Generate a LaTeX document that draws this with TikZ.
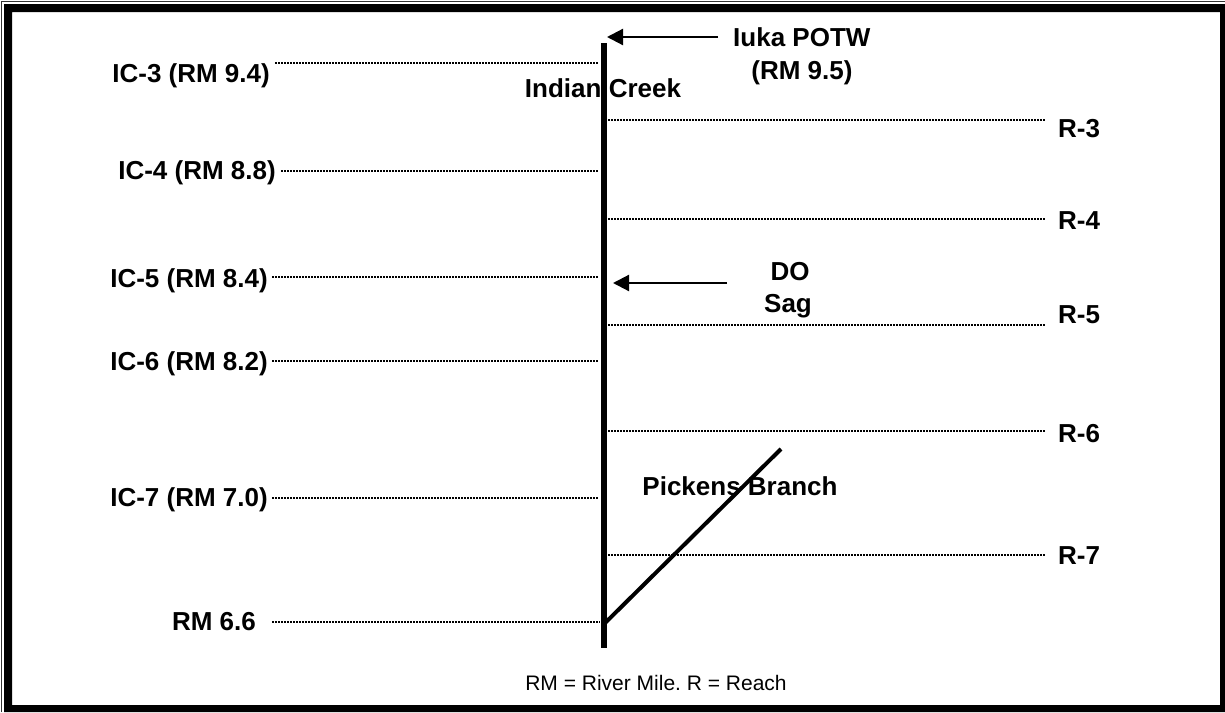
\documentclass[tikz,border=0pt]{standalone}
\usepackage{fontspec}
\setmainfont{Liberation Sans}
\usetikzlibrary{arrows.meta}
\begin{document}
\begin{tikzpicture}[x=1pt,y=-1pt,
 lbl/.style={font=\fontsize{26}{30}\selectfont\bfseries, inner sep=0pt, text height=18.7pt, text depth=0pt},
 note/.style={font=\fontsize{21}{24}\selectfont, inner sep=0pt, text height=15pt, text depth=0pt},
 dots/.style={line width=1.4pt, dash pattern=on 1.5pt off 1.5pt},
 river/.style={line width=5.5pt},
 branch/.style={line width=4pt},
 arr/.style={line width=2.2pt, -{Triangle[length=16pt,width=16pt]}}]
\useasboundingbox (0,0) rectangle (1225,712);
\fill[white] (0,0) rectangle (1225,712);
% frame
\draw[line width=1.2pt, black!80] (1.5,712) -- (1.5,1.5) -- (1225,1.5);
\fill[black, even odd rule] (4,4) rectangle (1225,712) (12,12) rectangle (1220,705);
% river
\coordinate (top) at (604,43);
\coordinate (bot) at (604,648);
\draw[river] (top) -- (bot);
\node[lbl] (ic) at (603,88) {Indian Creek};
% left labels
\node[lbl, anchor=east] (ic3) at (270,73) {IC-3 (RM 9.4)};
\node[lbl, anchor=east] (ic4) at (276,170) {IC-4 (RM 8.8)};
\node[lbl, anchor=east] (ic5) at (268,278) {IC-5 (RM 8.4)};
\node[lbl, anchor=east] (ic6) at (268,361) {IC-6 (RM 8.2)};
\node[lbl, anchor=east] (ic7) at (268,497) {IC-7 (RM 7.0)};
\node[lbl, anchor=east] (rm66) at (256,621) {RM 6.6};
\coordinate (l3a) at (275,63);  \coordinate (l3b) at (598,63);
\coordinate (l4a) at (281,171); \coordinate (l4b) at (598,171);
\coordinate (l5a) at (272,277); \coordinate (l5b) at (598,277);
\coordinate (l6a) at (272,361); \coordinate (l6b) at (598,361);
\coordinate (l7a) at (272,498); \coordinate (l7b) at (598,498);
\coordinate (l8a) at (272,622); \coordinate (l8b) at (600,622);
\draw[dots] (l3a) -- (l3b);
\draw[dots] (l4a) -- (l4b);
\draw[dots] (l5a) -- (l5b);
\draw[dots] (l6a) -- (l6b);
\draw[dots] (l7a) -- (l7b);
\draw[dots] (l8a) -- (l8b);
% right labels
\node[lbl, anchor=west] (r3) at (1058,128) {R-3};
\node[lbl, anchor=west] (r4) at (1058,220) {R-4};
\node[lbl, anchor=west] (r5) at (1058,314) {R-5};
\node[lbl, anchor=west] (r6) at (1058,433) {R-6};
\node[lbl, anchor=west] (r7) at (1058,555) {R-7};
\coordinate (q3a) at (608,120); \coordinate (q3b) at (1046,120);
\coordinate (q4a) at (608,219); \coordinate (q4b) at (1046,219);
\coordinate (q5a) at (608,325); \coordinate (q5b) at (1046,325);
\coordinate (q6a) at (608,431); \coordinate (q6b) at (1046,431);
\coordinate (q7a) at (608,555); \coordinate (q7b) at (1046,555);
\draw[dots] (q3a) -- (q3b);
\draw[dots] (q4a) -- (q4b);
\draw[dots] (q5a) -- (q5b);
\draw[dots] (q6a) -- (q6b);
\draw[dots] (q7a) -- (q7b);
% Iuka POTW
\node[lbl, anchor=west] (iuka) at (733,37) {Iuka POTW};
\node[lbl] (iukarm) at (802,70) {(RM 9.5)};
\coordinate (iukaA) at (718,37);
\coordinate (iukaB) at (607,37);
\draw[arr] (iukaA) -- (iukaB);
% DO Sag
\node[lbl] (do) at (790,271) {DO};
\node[lbl] (sag) at (788,303) {Sag};
\coordinate (doA) at (727,283);
\coordinate (doB) at (613,283);
\draw[arr] (doA) -- (doB);
% Pickens Branch
\coordinate (pbA) at (604,624);
\coordinate (pbB) at (781,449);
\draw[branch] (pbA) -- (pbB);
\node[lbl] (pb) at (740,486) {Pickens Branch};
% note
\node[note] (legend) at (656,683) {\frenchspacing RM = River Mile. R = Reach};
\end{tikzpicture}
\end{document}
